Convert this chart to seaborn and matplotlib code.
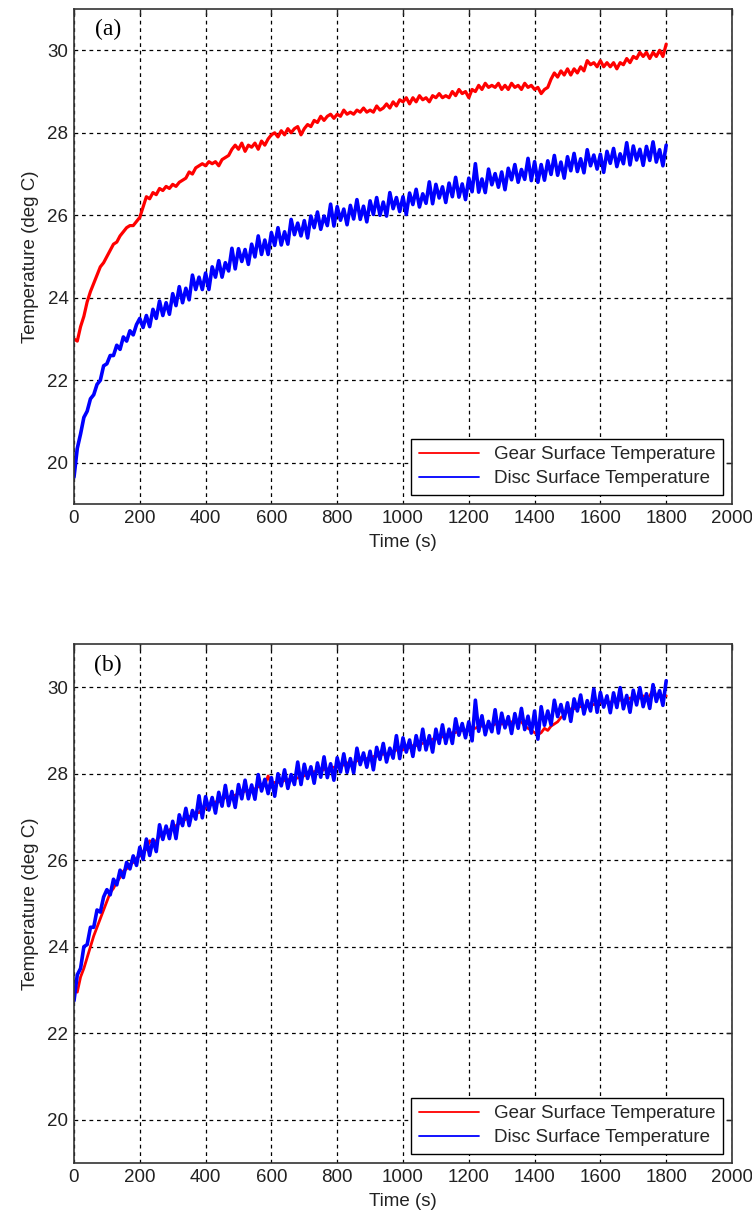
import numpy as np
import pandas as pd
import matplotlib
matplotlib.use("Agg")
import matplotlib.pyplot as plt
import seaborn as sns

# === Data (10 s spacing, 0..1800 s) ===
time_s = np.arange(0, 1801, 10)

gear_a = [
    23.0, 22.95, 23.3, 23.55, 23.9, 24.15, 24.35, 24.55, 24.75, 24.85,
    25.0, 25.15, 25.3, 25.35, 25.5, 25.6, 25.7, 25.75, 25.75, 25.85,
    25.95, 26.2, 26.45, 26.4, 26.55, 26.5, 26.65, 26.6, 26.7, 26.65,
    26.75, 26.7, 26.8, 26.85, 26.9, 27.05, 27.0, 27.15, 27.2, 27.25,
    27.2, 27.3, 27.25, 27.3, 27.2, 27.35, 27.4, 27.45, 27.6, 27.7,
    27.6, 27.75, 27.55, 27.7, 27.65, 27.75, 27.6, 27.8, 27.7, 27.85,
    27.95, 28.0, 27.9, 28.05, 27.95, 28.1, 28.0, 28.1, 28.15, 27.95,
    28.1, 28.2, 28.15, 28.3, 28.25, 28.4, 28.3, 28.4, 28.45, 28.35,
    28.45, 28.4, 28.55, 28.45, 28.5, 28.45, 28.55, 28.5, 28.6, 28.5,
    28.55, 28.5, 28.65, 28.55, 28.6, 28.7, 28.6, 28.75, 28.65, 28.8,
    28.75, 28.85, 28.7, 28.85, 28.75, 28.9, 28.8, 28.85, 28.75, 28.9,
    28.85, 28.95, 28.85, 28.9, 28.85, 29.0, 28.9, 29.05, 28.95, 29.0,
    28.85, 29.05, 29.0, 29.15, 29.05, 29.2, 29.1, 29.15, 29.1, 29.2,
    29.05, 29.15, 29.05, 29.2, 29.1, 29.15, 29.05, 29.2, 29.1, 29.15,
    29.05, 29.1, 28.95, 29.05, 29.1, 29.3, 29.45, 29.35, 29.5, 29.4,
    29.55, 29.4, 29.55, 29.45, 29.6, 29.5, 29.75, 29.65, 29.7, 29.6,
    29.75, 29.6, 29.7, 29.6, 29.7, 29.55, 29.7, 29.65, 29.8, 29.7,
    29.85, 29.8, 29.95, 29.85, 29.95, 29.8, 29.95, 29.85, 30.0, 29.85,
    30.15,
]

disc_a = [
    19.65, 20.35, 20.7, 21.1, 21.25, 21.55, 21.65, 21.9, 22.0, 22.35,
    22.4, 22.6, 22.6, 22.85, 22.75, 23.05, 22.95, 23.2, 23.1, 23.35,
    23.5, 23.28, 23.57, 23.3, 23.72, 23.5, 23.92, 23.57, 23.88, 23.6,
    24.1, 23.81, 24.27, 23.88, 24.23, 23.95, 24.55, 24.2, 24.5, 24.2,
    24.6, 24.2, 24.75, 24.5, 24.9, 24.5, 24.85, 24.65, 25.2, 24.7,
    25.19, 24.88, 25.17, 24.81, 25.3, 24.99, 25.5, 25.05, 25.4, 25.05,
    25.58, 25.27, 25.7, 25.28, 25.6, 25.3, 25.9, 25.53, 25.81, 25.5,
    25.87, 25.45, 25.98, 25.7, 26.08, 25.66, 25.98, 25.75, 26.27, 25.74,
    26.21, 25.88, 26.15, 25.77, 26.24, 25.91, 26.38, 25.9, 26.22, 25.84,
    26.35, 26.02, 26.43, 26.0, 26.32, 25.98, 26.55, 26.16, 26.43, 26.09,
    26.45, 26.02, 26.54, 26.26, 26.63, 26.2, 26.52, 26.29, 26.81, 26.28,
    26.75, 26.42, 26.69, 26.31, 26.78, 26.45, 26.92, 26.44, 26.76, 26.38,
    26.9, 26.57, 27.25, 26.56, 26.88, 26.55, 27.12, 26.74, 27.01, 26.68,
    27.05, 26.62, 27.14, 26.86, 27.23, 26.8, 27.11, 26.87, 27.38, 26.84,
    27.3, 26.8, 27.23, 26.85, 27.32, 26.99, 27.45, 26.97, 27.29, 26.9,
    27.42, 27.08, 27.5, 27.06, 27.37, 27.03, 27.59, 27.2, 27.46, 27.12,
    27.48, 27.04, 27.55, 27.26, 27.62, 27.18, 27.49, 27.25, 27.76, 27.22,
    27.68, 27.34, 27.6, 27.21, 27.67, 27.33, 27.78, 27.29, 27.59, 27.2,
    27.7,
]

gear_b = [
    23.0, 22.95, 23.3, 23.5, 23.75, 24.0, 24.25, 24.45, 24.65, 24.85,
    25.05, 25.25, 25.35, 25.5, 25.6, 25.75, 25.8, 25.9, 25.95, 26.05,
    26.1, 26.2, 26.25, 26.45, 26.4, 26.45, 26.55, 26.6, 26.65, 26.7,
    26.75, 26.8, 26.85, 26.9, 26.95, 27.0, 27.05, 27.1, 27.1, 27.2,
    27.2, 27.25, 27.3, 27.35, 27.35, 27.4, 27.45, 27.45, 27.5, 27.5,
    27.55, 27.55, 27.6, 27.6, 27.65, 27.65, 27.7, 27.7, 27.75, 27.95,
    27.75, 27.8, 27.8, 27.8, 27.85, 27.85, 27.9, 27.9, 27.9, 27.95,
    27.95, 28.0, 28.0, 28.05, 28.05, 28.05, 28.1, 28.1, 28.15, 28.15,
    28.15, 28.2, 28.2, 28.25, 28.25, 28.25, 28.3, 28.3, 28.35, 28.35,
    28.35, 28.4, 28.4, 28.45, 28.45, 28.45, 28.5, 28.5, 28.55, 28.55,
    28.55, 28.6, 28.6, 28.65, 28.65, 28.7, 28.7, 28.75, 28.75, 28.8,
    28.8, 28.85, 28.85, 28.9, 28.9, 28.95, 28.95, 29.0, 29.0, 29.0,
    29.05, 29.05, 29.05, 29.1, 29.1, 29.1, 29.1, 29.1, 29.15, 29.15,
    29.15, 29.15, 29.15, 29.2, 29.2, 29.2, 29.2, 29.1, 29.05, 29.0,
    28.95, 28.9, 28.95, 29.05, 29.0, 29.1, 29.15, 29.2, 29.3, 29.35,
    29.45, 29.5, 29.5, 29.55, 29.55, 29.55, 29.6, 29.6, 29.6, 29.6,
    29.65, 29.65, 29.65, 29.65, 29.7, 29.7, 29.7, 29.7, 29.7, 29.75,
    29.75, 29.75, 29.75, 29.8, 29.75, 29.8, 29.95, 29.8, 29.8, 29.8,
    29.8,
]

disc_b = [
    22.75, 23.35, 23.5, 24.0, 24.05, 24.45, 24.45, 24.85, 24.8, 25.15,
    25.32, 25.2, 25.56, 25.43, 25.77, 25.6, 25.95, 25.8, 26.1, 25.88,
    26.3, 26.02, 26.49, 26.11, 26.48, 26.2, 26.82, 26.48, 26.79, 26.5,
    26.9, 26.5, 27.05, 26.8, 27.2, 26.8, 27.15, 26.95, 27.49, 26.98,
    27.47, 27.16, 27.45, 27.09, 27.57, 27.25, 27.73, 27.26, 27.59, 27.22,
    27.75, 27.42, 27.85, 27.42, 27.74, 27.41, 27.98, 27.6, 27.87, 27.54,
    27.91, 27.48, 28.0, 27.72, 28.09, 27.66, 27.98, 27.75, 28.27, 27.75,
    28.22, 27.89, 28.16, 27.78, 28.25, 27.92, 28.39, 27.91, 28.23, 27.85,
    28.37, 28.04, 28.46, 28.03, 28.35, 28.02, 28.59, 28.21, 28.48, 28.15,
    28.52, 28.09, 28.61, 28.33, 28.7, 28.27, 28.59, 28.36, 28.88, 28.35,
    28.83, 28.5, 28.78, 28.4, 28.88, 28.55, 29.03, 28.55, 28.88, 28.5,
    29.03, 28.7, 29.13, 28.7, 29.03, 28.7, 29.27, 28.89, 29.16, 28.83,
    29.2, 28.76, 29.7, 28.98, 29.34, 28.9, 29.21, 28.97, 29.48, 28.94,
    29.4, 29.06, 29.32, 28.93, 29.39, 29.05, 29.51, 29.02, 29.33, 28.94,
    29.45, 28.8, 29.55, 29.12, 29.45, 29.13, 29.7, 29.32, 29.6, 29.27,
    29.64, 29.21, 29.73, 29.45, 29.82, 29.38, 29.69, 29.45, 29.96, 29.42,
    29.88, 29.54, 29.8, 29.41, 29.87, 29.53, 29.99, 29.5, 29.81, 29.42,
    29.93, 29.59, 29.99, 29.55, 29.85, 29.51, 30.06, 29.67, 29.92, 29.58,
    30.15,
]

panels = ['(a)', '(b)']
series_names = ['Gear Surface Temperature', 'Disc Surface Temperature']
x_ticks = list(range(0, 2001, 200))
y_ticks = [20, 22, 24, 26, 28, 30]

# === Style ===
sns.set_style("white")
plt.rcParams['font.family'] = ['Liberation Sans', 'DejaVu Sans']
plt.rcParams['xtick.direction'] = 'in'
plt.rcParams['ytick.direction'] = 'in'

fig = plt.figure(figsize=(7.52, 12.21), dpi=100)
ax_a = fig.add_axes([0.0984, 0.5872, 0.875, 0.4054])
ax_b = fig.add_axes([0.0984, 0.0475, 0.875, 0.4251])

data = [(ax_a, gear_a, disc_a, panels[0], 2.3), (ax_b, gear_b, disc_b, panels[1], 2.0)]

for ax, gear, disc, tag, red_lw in data:
    df = pd.DataFrame({'t': time_s, 'gear': gear, 'disc': disc})
    sns.lineplot(data=df, x='t', y='gear', ax=ax, color='#ff0000', lw=red_lw,
                 estimator=None, sort=False, label=series_names[0])
    sns.lineplot(data=df, x='t', y='disc', ax=ax, color='#0000ff', lw=2.6,
                 estimator=None, sort=False, label=series_names[1])

    ax.set_xlim(0, 2000)
    ax.set_ylim(19, 31)
    ax.set_xticks(x_ticks)
    ax.set_yticks(y_ticks)
    ax.grid(True, color='black', linestyle=(0, (3, 3)), linewidth=0.9)
    ax.tick_params(axis='both', which='both', top=True, right=True, length=4,
                   width=1, color='#222222', labelsize=13.5, labelcolor='#222222', pad=4)
    for s in ax.spines.values():
        s.set_color('#333333')
        s.set_linewidth(1.2)
        s.set_visible(True)

    ax.set_xlabel('Time (s)', fontsize=13.5, color='#222222', labelpad=5)
    ax.set_ylabel('Temperature (deg C)', fontsize=13.5, color='#222222', labelpad=6)

    ax.text(0.052, 0.958, tag, transform=ax.transAxes, ha='center', va='center',
            fontsize=17, family='Liberation Serif', color='black')

    leg = ax.legend(loc='lower right', fontsize=13.5, frameon=True, fancybox=False,
                    handlelength=3.2, labelspacing=0.35, borderpad=0.4,
                    edgecolor='black', framealpha=1)
    leg.get_frame().set_linewidth(1.0)
    for h in leg.get_lines():
        h.set_linewidth(1.3)

fig.savefig('out.png', dpi=100)
